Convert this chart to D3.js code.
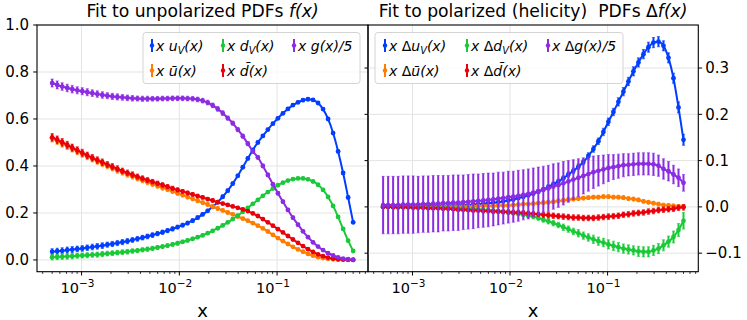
<!DOCTYPE html>
<html>
<head>
<meta charset="utf-8">
<title>PDF fits</title>
<style>
  body { margin: 0; background: #fff; }
  svg text { font-family: "DejaVu Sans", sans-serif; fill: #000; }
</style>
</head>
<body>
<svg id="chart" width="747" height="320"></svg>
<script src="https://d3js.org/d3.v7.min.js"></script>
<script>
"use strict";

// x grid (log spaced)
var xs = [5.00e-4, 5.63e-4, 6.33e-4, 7.13e-4, 8.02e-4, 9.03e-4, 1.016e-3, 1.143e-3, 1.287e-3, 1.448e-3,
  1.630e-3, 1.834e-3, 2.064e-3, 2.323e-3, 2.615e-3, 2.943e-3, 3.312e-3, 3.727e-3, 4.195e-3, 4.721e-3,
  5.313e-3, 5.980e-3, 6.730e-3, 7.574e-3, 8.524e-3, 9.594e-3, 0.01080, 0.01215, 0.01368, 0.01539,
  0.01732, 0.01950, 0.02194, 0.02469, 0.02779, 0.03128, 0.03520, 0.03962, 0.04459, 0.05018,
  0.05648, 0.06356, 0.07154, 0.08051, 0.09061, 0.1020, 0.1148, 0.1291, 0.1453, 0.1636,
  0.1841, 0.2072, 0.2332, 0.2624, 0.2953, 0.3324, 0.3741, 0.4210, 0.4738, 0.5333, 0.6001];

// ---- unpolarized ----
var uV = [.035,.037,.039,.042,.044,.047,.049,.052,.055,.058,
  .061,.065,.068,.072,.076,.080,.085,.090,.095,.100,
  .106,.112,.118,.125,.132,.140,.148,.157,.167,.180,
  .194,.209,.226,.246,.269,.295,.325,.358,.395,.432,
  .468,.500,.528,.555,.580,.603,.624,.643,.659,.671,
  .680,.684,.681,.668,.642,.600,.540,.462,.370,.266,.160];
var uVErr = [.013,.013,.013,.013,.013,.012,.012,.012,.012,.012,
  .012,.011,.011,.011,.011,.011,.010,.010,.010,.010,
  .010,.009,.009,.009,.009,.008,.008,.008,.008,.008,
  .007,.007,.007,.007,.007,.007,.007,.007,.007,.007,
  .006,.006,.006,.006,.006,.006,.006,.006,.006,.006,
  .006,.006,.006,.006,.006,.006,.006,.006,.006,.006,.006];

var uBar = [.518,.507,.496,.485,.474,.463,.452,.441,.431,.421,
  .411,.401,.392,.382,.373,.364,.356,.347,.339,.331,
  .323,.315,.307,.300,.292,.284,.276,.268,.260,.252,
  .244,.236,.227,.219,.211,.202,.194,.185,.176,.167,
  .157,.146,.134,.121,.107,.093,.080,.068,.056,.045,
  .035,.026,.018,.012,.008,.005,.003,.002,.001,.000,.000];
var uBarErr = [.016,.016,.016,.015,.015,.015,.015,.014,.014,.014,
  .014,.013,.013,.013,.012,.012,.012,.011,.011,.011,
  .010,.010,.010,.009,.009,.009,.008,.008,.008,.008,
  .007,.007,.007,.007,.006,.006,.006,.006,.006,.005,
  .005,.005,.005,.005,.005,.005,.004,.004,.004,.004,
  .004,.004,.004,.003,.003,.003,.003,.003,.003,.003,.003];

var dV = [.012,.013,.014,.015,.016,.018,.019,.020,.022,.023,
  .025,.027,.029,.031,.033,.035,.038,.040,.043,.046,
  .049,.053,.057,.061,.066,.071,.077,.083,.090,.097,
  .105,.114,.124,.135,.147,.160,.174,.189,.205,.222,
  .239,.256,.273,.289,.304,.318,.329,.338,.344,.347,
  .347,.343,.334,.320,.298,.268,.230,.183,.132,.082,.038];
var dVErr = [.012,.012,.012,.012,.012,.011,.011,.011,.011,.011,
  .011,.010,.010,.010,.010,.010,.009,.009,.009,.009,
  .009,.008,.008,.008,.008,.008,.007,.007,.007,.007,
  .007,.006,.006,.006,.006,.006,.006,.006,.006,.006,
  .005,.005,.005,.005,.005,.005,.005,.005,.005,.005,
  .005,.005,.005,.005,.005,.005,.005,.005,.005,.005,.005];

var dBar = [.522,.512,.501,.490,.478,.467,.456,.445,.435,.425,
  .416,.406,.397,.388,.379,.371,.363,.355,.347,.340,
  .333,.326,.319,.312,.305,.298,.292,.285,.279,.272,
  .266,.259,.253,.246,.240,.234,.228,.222,.215,.208,
  .198,.187,.174,.160,.146,.131,.117,.102,.087,.073,
  .059,.046,.034,.024,.016,.010,.006,.003,.002,.001,.000];
var dBarErr = uBarErr;

var g5 = [.753,.745,.738,.732,.727,.722,.718,.714,.710,.706,
  .702,.699,.696,.694,.692,.690,.688,.687,.686,.686,
  .686,.686,.687,.687,.688,.688,.688,.687,.686,.683,
  .678,.670,.658,.643,.625,.604,.582,.555,.527,.495,
  .462,.437,.400,.362,.322,.284,.248,.213,.180,.150,
  .122,.097,.075,.057,.042,.029,.019,.011,.006,.003,.001];
var g5Err = [.017,.017,.016,.016,.016,.015,.015,.015,.014,.014,
  .014,.013,.013,.013,.012,.012,.012,.011,.011,.011,
  .010,.010,.010,.010,.010,.010,.010,.010,.010,.010,
  .010,.010,.010,.010,.010,.009,.009,.009,.009,.009,
  .008,.008,.008,.008,.008,.007,.007,.007,.007,.006,
  .006,.006,.006,.005,.005,.005,.005,.004,.004,.004,.004];

// ---- polarized (helicity) ----
var DuV = [.000,.000,.000,.001,.001,.001,.001,.001,.001,.002,
  .002,.002,.002,.003,.003,.003,.004,.004,.005,.006,
  .007,.008,.009,.010,.012,.014,.016,.019,.022,.025,
  .029,.033,.038,.043,.049,.055,.062,.070,.078,.087,
  .097,.110,.125,.142,.162,.184,.205,.227,.249,.271,
  .293,.312,.330,.345,.355,.357,.348,.322,.278,.215,.145];
var DuVErr = [.002,.002,.002,.002,.002,.002,.002,.002,.002,.002,
  .002,.002,.002,.002,.002,.002,.002,.002,.002,.002,
  .003,.003,.003,.003,.003,.003,.003,.003,.003,.003,
  .004,.004,.004,.005,.005,.005,.005,.006,.006,.006,
  .006,.007,.007,.007,.008,.008,.008,.009,.009,.009,
  .010,.010,.010,.011,.011,.011,.011,.011,.011,.012,.012];

var Dubar = [.000,.000,.000,.000,.000,.000,.000,.000,.000,.000,
  .000,.000,.001,.001,.001,.001,.001,.001,.001,.002,
  .002,.002,.002,.003,.003,.003,.004,.005,.006,.006,
  .007,.008,.009,.010,.011,.013,.014,.016,.017,.018,
  .019,.020,.021,.021,.022,.022,.021,.021,.020,.018,
  .017,.015,.012,.010,.008,.006,.004,.003,.002,.001,.001];
var DubarErr = [.001,.001,.001,.001,.001,.001,.001,.001,.001,.001,
  .001,.001,.001,.001,.001,.001,.002,.002,.002,.002,
  .002,.002,.002,.002,.003,.003,.003,.003,.003,.003,
  .003,.003,.004,.004,.004,.004,.004,.004,.004,.004,
  .004,.004,.004,.004,.004,.004,.004,.004,.004,.004,
  .004,.004,.004,.004,.004,.004,.004,.004,.004,.004,.004];

var DdV = [-.000,-.000,-.001,-.001,-.001,-.001,-.001,-.001,-.001,-.002,
  -.002,-.002,-.002,-.002,-.003,-.003,-.003,-.004,-.004,-.005,
  -.006,-.007,-.008,-.009,-.010,-.012,-.013,-.015,-.017,-.019,
  -.021,-.024,-.028,-.031,-.035,-.039,-.044,-.048,-.053,-.057,
  -.062,-.066,-.070,-.074,-.077,-.081,-.084,-.087,-.090,-.092,
  -.094,-.096,-.097,-.097,-.094,-.090,-.083,-.075,-.065,-.050,-.030];
var DdVErr = [.002,.002,.002,.002,.002,.002,.002,.002,.002,.002,
  .002,.002,.002,.002,.002,.002,.002,.002,.002,.002,
  .003,.003,.003,.003,.003,.004,.004,.004,.004,.004,
  .005,.005,.005,.006,.006,.006,.007,.007,.007,.008,
  .008,.008,.009,.009,.009,.010,.010,.010,.010,.010,
  .010,.011,.011,.011,.011,.011,.012,.012,.013,.014,.018];

var Ddbar = [.000,.000,-.001,-.001,-.001,-.001,-.002,-.002,-.002,-.003,
  -.003,-.003,-.004,-.004,-.005,-.006,-.006,-.007,-.008,-.008,
  -.009,-.009,-.010,-.010,-.011,-.011,-.012,-.012,-.013,-.014,
  -.015,-.016,-.017,-.018,-.019,-.020,-.021,-.022,-.023,-.023,
  -.024,-.024,-.024,-.023,-.022,-.021,-.020,-.019,-.017,-.016,
  -.014,-.013,-.012,-.010,-.009,-.007,-.006,-.005,-.004,-.002,-.001];
var DdbarErr = [.001,.001,.001,.001,.001,.001,.001,.001,.001,.002,
  .002,.002,.002,.002,.002,.003,.003,.003,.003,.003,
  .004,.004,.004,.004,.004,.005,.005,.005,.005,.005,
  .005,.005,.006,.006,.006,.006,.006,.006,.006,.006,
  .006,.006,.006,.006,.006,.006,.006,.006,.006,.006,
  .006,.006,.006,.006,.006,.006,.006,.006,.006,.006,.006];

var Dg5 = [.004,.004,.004,.004,.005,.005,.005,.005,.006,.006,
  .007,.007,.008,.008,.009,.009,.010,.011,.012,.013,
  .014,.015,.016,.018,.019,.021,.022,.024,.026,.028,
  .031,.034,.037,.040,.044,.047,.051,.055,.059,.063,
  .067,.071,.075,.078,.081,.084,.086,.088,.090,.091,
  .092,.093,.093,.093,.092,.089,.082,.077,.070,.063,.052];
var Dg5Err = [.062,.062,.062,.062,.062,.062,.062,.061,.061,.061,
  .061,.061,.060,.060,.060,.060,.059,.059,.059,.058,
  .058,.058,.057,.057,.056,.056,.055,.055,.054,.054,
  .053,.052,.051,.050,.049,.048,.047,.045,.043,.041,
  .039,.037,.035,.033,.031,.029,.027,.026,.025,.024,
  .024,.024,.024,.024,.024,.023,.022,.021,.020,.019,.018];

// tick labels
var xTickVals = [1e-3, 1e-2, 1e-1];
var xTickExps = ["\u22123", "\u22122", "\u22121"];
var yTicksLeft = [0.0, 0.2, 0.4, 0.6, 0.8, 1.0];
var yTicksRight = [-0.1, 0.0, 0.1, 0.2, 0.3];

var colors = { u: "#023eff", ub: "#ff7c00", d: "#1ac938", db: "#e8000b", g: "#8b2be2" };

var svg = d3.select("#chart");
var plotTop = 25, plotBottom = 271.7;
var xDom = [Math.pow(10, -3.456), Math.pow(10, -0.07)];

var panels = [
  {
    x0: 37, x1: 368, yLim: [-0.05, 1.0], yTicks: yTicksLeft, side: "left",
    title: [["Fit to unpolarized PDFs ", 0], ["f", 1], ["(x)", 1]],
    legend: { x: 143, w: 217, cols: [152, 223, 294] },
    series: [
      { v: uV, e: uVErr, c: colors.u, lab: [["x ", 1], ["u", 1], ["V", 2], ["(x)", 1]], col: 0, row: 0 },
      { v: uBar, e: uBarErr, c: colors.ub, lab: [["x ", 1], ["\u016b", 1], ["(x)", 1]], col: 0, row: 1 },
      { v: dV, e: dVErr, c: colors.d, lab: [["x ", 1], ["d", 1], ["V", 2], ["(x)", 1]], col: 1, row: 0 },
      { v: dBar, e: dBarErr, c: colors.db, lab: [["x ", 1], ["d\u0304", 1], ["(x)", 1]], col: 1, row: 1 },
      { v: g5, e: g5Err, c: colors.g, lab: [["x ", 1], ["g", 1], ["(x)/5", 1]], col: 2, row: 0 }
    ]
  },
  {
    x0: 368, x1: 698.3, yLim: [-0.14, 0.393], yTicks: yTicksRight, side: "right",
    title: [["Fit to polarized (helicity)\u00a0 PDFs \u0394", 0], ["f", 1], ["(x)", 1]],
    legend: { x: 375, w: 248, cols: [385, 467, 548] },
    series: [
      { v: DuV, e: DuVErr, c: colors.u, lab: [["x ", 1], ["\u0394", 0], ["u", 1], ["V", 2], ["(x)", 1]], col: 0, row: 0 },
      { v: Dubar, e: DubarErr, c: colors.ub, lab: [["x ", 1], ["\u0394", 0], ["\u016b", 1], ["(x)", 1]], col: 0, row: 1 },
      { v: DdV, e: DdVErr, c: colors.d, lab: [["x ", 1], ["\u0394", 0], ["d", 1], ["V", 2], ["(x)", 1]], col: 1, row: 0 },
      { v: Ddbar, e: DdbarErr, c: colors.db, lab: [["x ", 1], ["\u0394", 0], ["d\u0304", 1], ["(x)", 1]], col: 1, row: 1 },
      { v: Dg5, e: Dg5Err, c: colors.g, lab: [["x ", 1], ["\u0394", 0], ["g", 1], ["(x)/5", 1]], col: 2, row: 0 }
    ]
  }
];

// writes runs of [text, style] into a text element: 0 upright, 1 italic, 2 italic subscript
function richText(sel, runs, size) {
  var sub = false;
  runs.forEach(function (r) {
    var t = sel.append("tspan").text(r[0])
      .attr("font-style", r[1] ? "italic" : "normal")
      .attr("font-size", r[1] === 2 ? size * 0.7 : size);
    if (r[1] === 2 && !sub) { t.attr("dy", size * 0.22); sub = true; }
    else if (r[1] !== 2 && sub) { t.attr("dy", -size * 0.22); sub = false; }
  });
}

panels.forEach(function (p) {
  var x = d3.scaleLog().domain(xDom).range([p.x0, p.x1]);
  var y = d3.scaleLinear().domain(p.yLim).range([plotBottom, plotTop]);
  var g = svg.append("g");

  // grid
  g.selectAll(".gx").data(xTickVals).enter().append("line")
    .attr("x1", function (d) { return x(d); }).attr("x2", function (d) { return x(d); })
    .attr("y1", plotTop).attr("y2", plotBottom)
    .attr("stroke", "#e3e3e3").attr("stroke-width", 1);
  g.selectAll(".gy").data(p.yTicks).enter().append("line")
    .attr("x1", p.x0).attr("x2", p.x1)
    .attr("y1", function (d) { return y(d); }).attr("y2", function (d) { return y(d); })
    .attr("stroke", "#e3e3e3").attr("stroke-width", 1);

  // curves
  var clip = "clip" + p.side;
  svg.append("clipPath").attr("id", clip).append("rect")
    .attr("x", p.x0).attr("y", plotTop).attr("width", p.x1 - p.x0).attr("height", plotBottom - plotTop);
  var plot = g.append("g").attr("clip-path", "url(#" + clip + ")");
  var line = d3.line().x(function (d, i) { return x(xs[i]); }).y(function (d) { return y(d); })
    .curve(d3.curveMonotoneX);

  p.series.forEach(function (s) {
    var sg = plot.append("g");
    sg.append("path").attr("d", line(s.v)).attr("fill", "none")
      .attr("stroke", s.c).attr("stroke-width", 2);
    var bars = sg.selectAll(".eb").data(s.v).enter().append("g");
    bars.append("line")
      .attr("x1", function (d, i) { return x(xs[i]); }).attr("x2", function (d, i) { return x(xs[i]); })
      .attr("y1", function (d, i) { return y(d - s.e[i]); })
      .attr("y2", function (d, i) { return y(d + s.e[i]); })
      .attr("stroke", s.c).attr("stroke-width", 2);
    [-1, 1].forEach(function (sgn) {
      bars.append("line")
        .attr("x1", function (d, i) { return x(xs[i]) - 1.6; }).attr("x2", function (d, i) { return x(xs[i]) + 1.6; })
        .attr("y1", function (d, i) { return y(d + sgn * s.e[i]); })
        .attr("y2", function (d, i) { return y(d + sgn * s.e[i]); })
        .attr("stroke", s.c).attr("stroke-width", 1).attr("stroke-opacity", 0.6);
    });
    sg.selectAll(".pt").data(s.v).enter().append("circle")
      .attr("cx", function (d, i) { return x(xs[i]); }).attr("cy", function (d) { return y(d); })
      .attr("r", 2.4).attr("fill", s.c);
  });

  // frame
  g.append("rect").attr("x", p.x0).attr("y", plotTop).attr("width", p.x1 - p.x0).attr("height", plotBottom - plotTop)
    .attr("fill", "none").attr("stroke", "#000").attr("stroke-width", 1.1);

  // x ticks: major + minor
  var minor = [];
  for (var e = -4; e <= 0; e++) {
    for (var k = 2; k <= 9; k++) {
      var v = k * Math.pow(10, e);
      if (v > xDom[0] && v < xDom[1]) minor.push(v);
    }
  }
  g.selectAll(".mn").data(minor).enter().append("line")
    .attr("x1", function (d) { return x(d); }).attr("x2", function (d) { return x(d); })
    .attr("y1", plotBottom).attr("y2", plotBottom + 2.2).attr("stroke", "#000").attr("stroke-width", 0.8);
  g.selectAll(".mj").data(xTickVals).enter().append("line")
    .attr("x1", function (d) { return x(d); }).attr("x2", function (d) { return x(d); })
    .attr("y1", plotBottom).attr("y2", plotBottom + 3.8).attr("stroke", "#000").attr("stroke-width", 1);
  xTickVals.forEach(function (d, i) {
    var t = g.append("text").attr("x", x(d) - 4).attr("y", 293).attr("text-anchor", "middle")
      .attr("font-size", 14.5);
    t.append("tspan").text("10");
    t.append("tspan").text(xTickExps[i]).attr("font-size", 10.5).attr("dy", -6.5);
  });
  g.append("text").attr("x", (p.x0 + p.x1) / 2).attr("y", 317).attr("text-anchor", "middle")
    .attr("font-size", 18).text("x");

  // y ticks
  var yt = p.yTicks;
  if (p.side === "left") {
    g.selectAll(".yt").data(yt).enter().append("line")
      .attr("x1", p.x0 - 3.8).attr("x2", p.x0)
      .attr("y1", function (d) { return y(d); }).attr("y2", function (d) { return y(d); })
      .attr("stroke", "#000").attr("stroke-width", 1);
    g.selectAll(".yl").data(yt).enter().append("text")
      .attr("x", p.x0 - 8).attr("y", function (d) { return y(d) + 5.2; })
      .attr("text-anchor", "end").attr("font-size", 15)
      .text(function (d) { return d3.format(".1f")(d).replace("-", "\u2212"); });
  } else {
    g.selectAll(".yt").data(yt).enter().append("line")
      .attr("x1", p.x1).attr("x2", p.x1 + 3.8)
      .attr("y1", function (d) { return y(d); }).attr("y2", function (d) { return y(d); })
      .attr("stroke", "#000").attr("stroke-width", 1);
    g.selectAll(".ytl").data(yt).enter().append("line")
      .attr("x1", p.x0 - 3.5).attr("x2", p.x0)
      .attr("y1", function (d) { return y(d); }).attr("y2", function (d) { return y(d); })
      .attr("stroke", "#000").attr("stroke-width", 1);
    g.selectAll(".yl").data(yt).enter().append("text")
      .attr("x", p.x1 + 7).attr("y", function (d) { return y(d) + 5.2; })
      .attr("text-anchor", "start").attr("font-size", 15)
      .text(function (d) { return d3.format(".1f")(d).replace("-", "\u2212"); });
  }

  // title
  var tt = g.append("text").attr("x", (p.x0 + p.x1) / 2).attr("y", 17).attr("text-anchor", "middle");
  richText(tt, p.title, 17.2);

  // legend
  var L = p.legend;
  g.append("rect").attr("x", L.x).attr("y", 32.5).attr("width", L.w).attr("height", 51)
    .attr("rx", 3).attr("fill", "#fff").attr("fill-opacity", 0.8)
    .attr("stroke", "#d4d4d4").attr("stroke-width", 1);
  p.series.forEach(function (s) {
    var lx = L.cols[s.col], ly = 45.5 + s.row * 25;
    g.append("line").attr("x1", lx).attr("x2", lx).attr("y1", ly - 6.5).attr("y2", ly + 6.5)
      .attr("stroke", s.c).attr("stroke-width", 2);
    g.append("circle").attr("cx", lx).attr("cy", ly).attr("r", 2.2).attr("fill", s.c);
    var t = g.append("text").attr("x", lx + 4).attr("y", ly + 5);
    richText(t, s.lab, 14);
  });
});
</script>
</body>
</html>
